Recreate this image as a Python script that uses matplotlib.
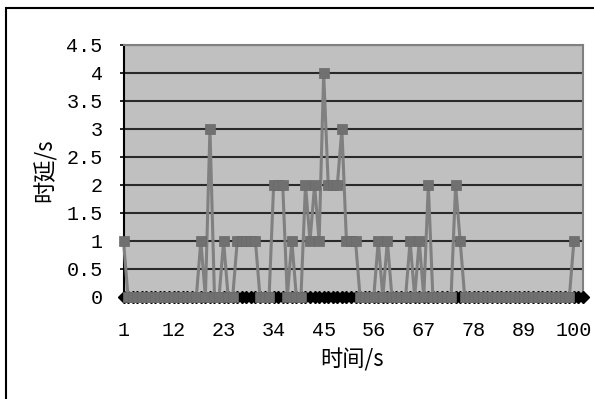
import numpy as np
import matplotlib
matplotlib.use("Agg")
import matplotlib.pyplot as plt
from matplotlib.patches import Rectangle

# delay (s) recorded each second, 1..100
delay = [1, 0, 0, 0, 0, 0, 0, 0, 0, 0,
         0, 0, 0, 0, 0, 0, 0, 1, 0, 3,
         0, 0, 1, 0, 0, 1, 1, 1, 1, 1,
         0, 0, 0, 2, 2, 2, 0, 1, 0, 0,
         2, 1, 2, 1, 4, 2, 2, 2, 3, 1,
         1, 1, 0, 0, 0, 0, 1, 0, 1, 0,
         0, 0, 0, 1, 0, 1, 0, 2, 0, 0,
         0, 0, 0, 2, 1, 0, 0, 0, 0, 0,
         0, 0, 0, 0, 0, 0, 0, 0, 0, 0,
         0, 0, 0, 0, 0, 0, 0, 0, 0, 1]
# second series, flat at zero over 102 samples
baseline = [0] * 102

x_labels = ["1", "12", "23", "34", "45", "56", "67", "78", "89", "100"]
y_ticks = [0, 0.5, 1, 1.5, 2, 2.5, 3, 3.5, 4, 4.5]
x_title = "时间/s"
y_title = "时延/s"

num_font = ["Liberation Mono", "Noto Sans CJK SC"]
cjk_font = ["Noto Sans CJK SC", "Liberation Mono"]

fig = plt.figure(figsize=(5.94, 3.99), dpi=100)
W, H = 594, 399

# outer chart frame
fig.patches.append(Rectangle((6 / W, -0.05), 1.1, 1 - 8 / H + 0.05,
                             transform=fig.transFigure, fill=False,
                             edgecolor="black", linewidth=1.5))

ax = fig.add_axes([123.5 / W, 1 - 297 / H, (583 - 123.5) / W, (297 - 45) / H])
ax.set_facecolor("#c0c0c0")

x_base = np.arange(1, len(baseline) + 1)
x_delay = np.arange(1, len(delay) + 1)

ax.plot(x_base, baseline, color="black", linewidth=2, marker="D",
        markersize=6, markerfacecolor="black", markeredgecolor="black",
        clip_on=False, zorder=3)
ax.plot(x_delay, delay, color="#808080", linewidth=2.2, marker="s",
        markersize=7.5, markerfacecolor="#707070", markeredgecolor="#6a6a6a",
        markeredgewidth=0.5, clip_on=False, zorder=4)

ax.set_xlim(1, len(baseline))
ax.set_ylim(0, 4.5)

ax.set_yticks(y_ticks)
ax.set_yticklabels([f"{v:g}" for v in y_ticks], family=num_font,
                   fontsize=14.5)
ax.yaxis.grid(True, color="#2a2a2a", linewidth=1.5)
ax.set_axisbelow(True)

label_pos = [int(s) for s in x_labels]
ax.set_xticks(label_pos)
ax.set_xticklabels(x_labels, family=num_font, fontsize=14.5)
ax.set_xticks(x_base, minor=True)
ax.tick_params(axis="x", which="both", direction="out", length=4,
               width=1, color="black", pad=13)
ax.tick_params(axis="y", direction="out", length=3, width=1.2, pad=12)

for side in ["top", "right"]:
    ax.spines[side].set_color("#808080")
    ax.spines[side].set_linewidth(1.5)
ax.spines["left"].set_color("black")
ax.spines["left"].set_linewidth(1.5)
ax.spines["bottom"].set_color("black")
ax.spines["bottom"].set_linewidth(1.5)

fig.text(352 / W, 1 - 360 / H, x_title, family=cjk_font, fontsize=16,
         ha="center", va="center")
fig.text(45 / W, 1 - 170 / H, y_title, family=cjk_font, fontsize=16,
         ha="center", va="center", rotation=90)

fig.savefig("out.png", dpi=100, facecolor="white")
